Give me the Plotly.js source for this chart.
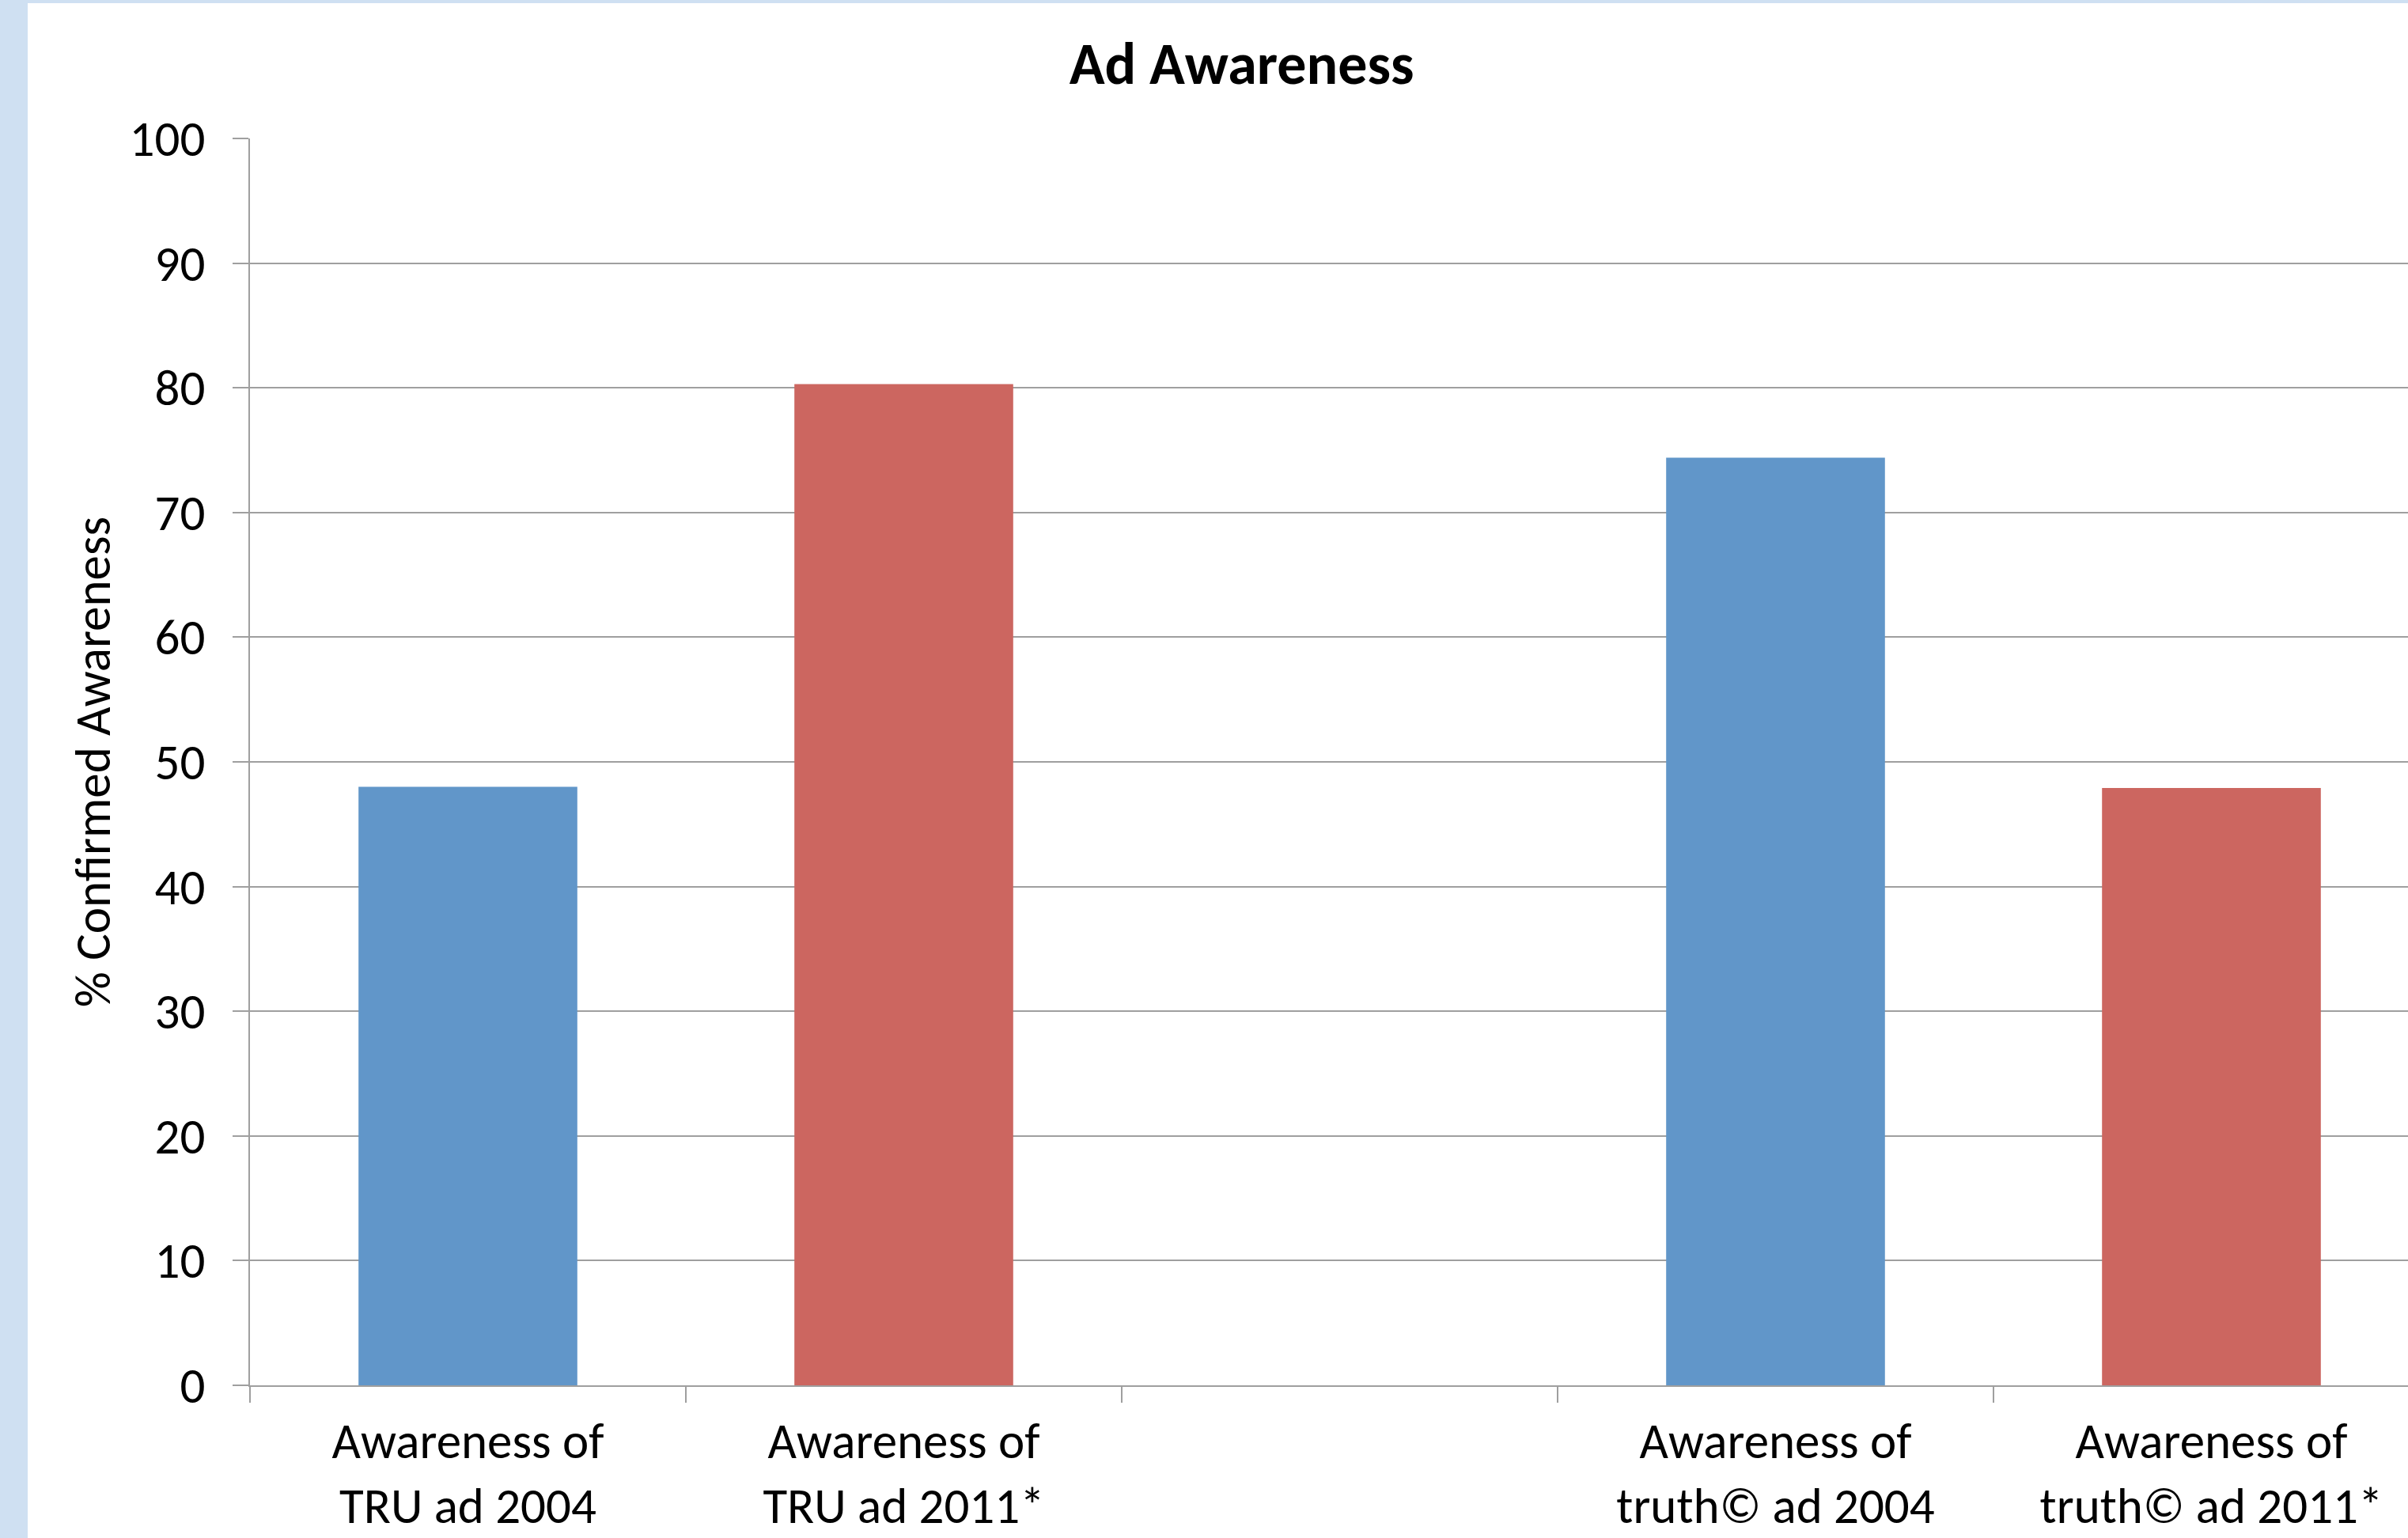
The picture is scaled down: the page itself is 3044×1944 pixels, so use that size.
<!DOCTYPE html>
<html>
<head>
<meta charset="utf-8">
<script src="https://cdn.plot.ly/plotly-3.0.1.min.js"></script>
<style>
  html, body { margin: 0; padding: 0; width: 3044px; height: 1944px; overflow: hidden; background: #cfe0f2; }
  #chart { position: absolute; left: 35px; top: 4px; width: 3009px; height: 1940px; background: #ffffff; }
</style>
</head>
<body>
<div id="chart"></div>
<script>
// ---- data ----
const categories = [
  "Awareness of<br>TRU ad 2004",
  "Awareness of<br>TRU ad 2011*",
  " ",
  "Awareness of<br>truth© ad 2004",
  "Awareness of<br>truth© ad 2011*"
];
const awareness = [48.0, 80.3, null, 74.4, 47.9];
const yTickValues = [0, 10, 20, 30, 40, 50, 60, 70, 80, 90, 100];
const chartTitle = "Ad Awareness";
const yTitle = "% Confirmed Awareness";

// ---- styles ----
const barColors = ["#6196c9", "#cc6660", "#6196c9", "#6196c9", "#cc6660"];
const FONT = "Carlito, Calibri, Lato, 'Open Sans', sans-serif";
const gridGray = "#9f9f9f";

const trace = {
  type: "bar",
  x: categories,
  y: awareness,
  marker: { color: barColors, line: { width: 0 } },
  hoverinfo: "x+y"
};

const layout = {
  width: 3009,
  height: 1940,
  paper_bgcolor: "#ffffff",
  plot_bgcolor: "#ffffff",
  margin: { l: 281, r: 0, t: 171, b: 193, pad: 0 },
  showlegend: false,
  bargap: 0.498,
  font: { family: FONT, color: "#000000", size: 63 },
  title: {
    text: "<b>" + chartTitle + "</b>",
    font: { family: FONT, size: 74, color: "#000000" },
    xref: "container", yref: "container",
    x: 0.510, xanchor: "center",
    y: 0.961, yanchor: "middle"
  },
  xaxis: {
    type: "category",
    categoryorder: "array",
    categoryarray: categories,
    range: [-0.5, 4.451],
    tickson: "boundaries",
    ticks: "outside",
    ticklen: 20,
    tickwidth: 2,
    tickcolor: gridGray,
    showline: true,
    linecolor: gridGray,
    linewidth: 2,
    showgrid: false,
    zeroline: false,
    ticklabelstandoff: 14,
    tickfont: { family: FONT, size: 63, color: "#000000" },
    tickangle: 0,
    automargin: false,
    fixedrange: true
  },
  yaxis: {
    range: [0, 100],
    tickvals: yTickValues,
    ticks: "outside",
    ticklen: 20,
    tickwidth: 2,
    tickcolor: gridGray,
    showline: true,
    linecolor: gridGray,
    linewidth: 2,
    showgrid: true,
    gridcolor: gridGray,
    gridwidth: 2,
    zeroline: false,
    ticklabelstandoff: 22,
    tickfont: { family: FONT, size: 63, color: "#000000" },
    title: { text: yTitle, font: { family: FONT, size: 63, color: "#000000" }, standoff: 4 },
    automargin: false,
    fixedrange: true
  }
};

Plotly.newPlot("chart", [trace], layout, { displayModeBar: false, staticPlot: true });
</script>
</body>
</html>
